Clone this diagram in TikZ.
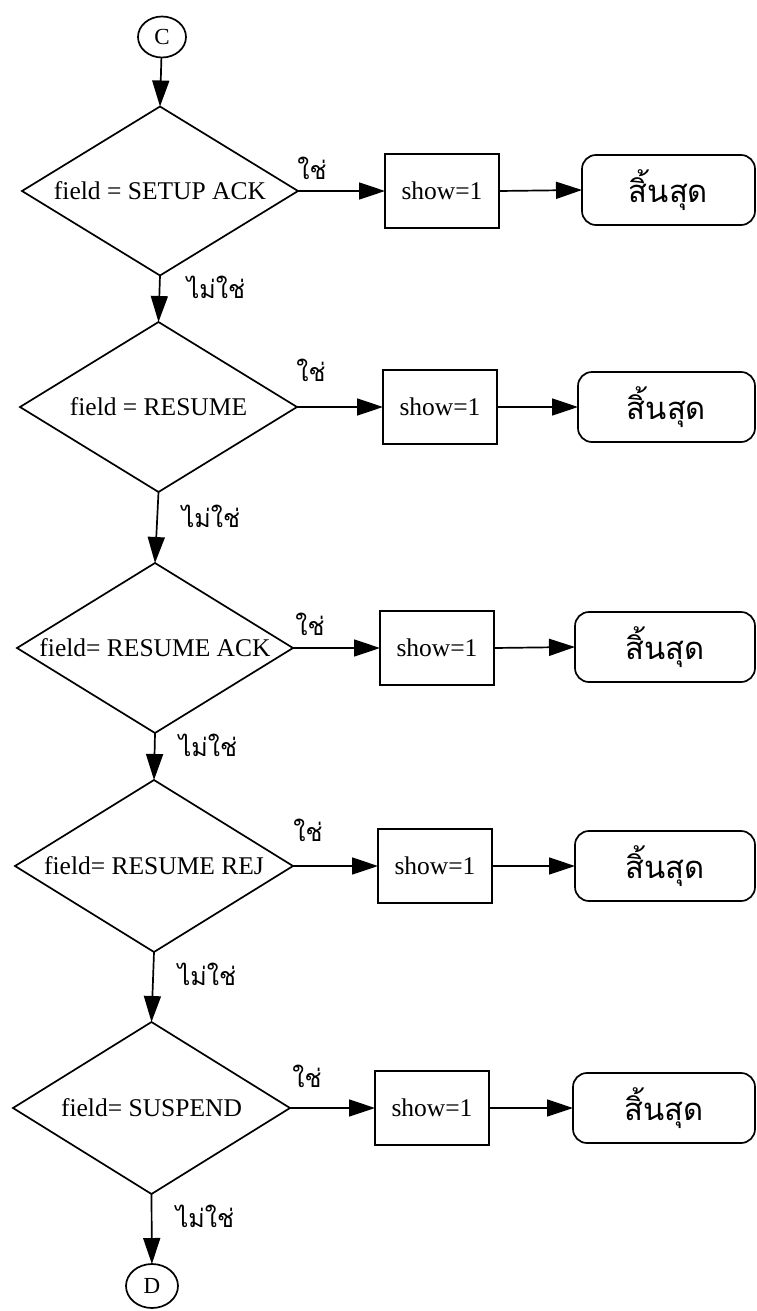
\documentclass[tikz,border=0pt]{standalone}
\usepackage{fontspec}
\setmainfont{Liberation Serif}
\newfontfamily\thaifont[Script=Thai]{Loma}
\usetikzlibrary{shapes.geometric,arrows.meta}
\begin{document}
\begin{tikzpicture}[x=1pt,y=-1pt,line width=1.7pt,
  dec/.style={diamond,draw,aspect=1.63,inner sep=0pt,outer sep=0pt,font=\fontsize{25.5}{28}\selectfont},
  proc/.style={rectangle,draw,minimum width=114pt,minimum height=74pt,inner sep=0pt,outer sep=0pt,font=\fontsize{25.5}{28}\selectfont},
  term/.style={rectangle,draw,rounded corners=14pt,minimum height=70pt,inner sep=0pt,outer sep=0pt,font=\thaifont\fontsize{31}{34}\selectfont},
  conn/.style={ellipse,draw,inner sep=0pt,outer sep=0pt,font=\fontsize{23}{25}\selectfont},
  flow/.style={-{Triangle[length=26pt,width=17pt]}},
  lab/.style={inner sep=0pt,font=\thaifont\fontsize{25}{28}\selectfont}
]
\useasboundingbox (0,0) rectangle (757,1311);

\node[conn,minimum width=48pt,minimum height=41pt] (C) at (162,37) {C};

\node[dec,minimum width=276pt,minimum height=169pt] (d1) at (160,191) {field = SETUP ACK};
\node[dec,minimum width=277pt,minimum height=170pt] (d2) at (158.5,407) {field = RESUME};
\node[dec,minimum width=276pt,minimum height=170pt] (d3) at (155,648) {field= RESUME ACK};
\node[dec,minimum width=278pt,minimum height=172pt] (d4) at (154,866) {field= RESUME REJ};
\node[dec,minimum width=277pt,minimum height=172pt] (d5) at (151.5,1108) {field= SUSPEND};

\node[conn,minimum width=52pt,minimum height=44pt] (D) at (152,1286) {D};

\node[proc] (p1) at (442,191) {show=1};
\node[proc] (p2) at (440,407) {show=1};
\node[proc] (p3) at (437,648) {show=1};
\node[proc] (p4) at (435,866) {show=1};
\node[proc] (p5) at (432,1108) {show=1};

\node[term,minimum width=173pt] (t1) at (668.5,190) {สิ้นสุด};
\node[term,minimum width=177pt] (t2) at (666.5,407) {สิ้นสุด};
\node[term,minimum width=180pt] (t3) at (665,647) {สิ้นสุด};
\node[term,minimum width=180pt] (t4) at (665,866) {สิ้นสุด};
\node[term,minimum width=182pt] (t5) at (664,1108) {สิ้นสุด};

\draw[flow] (C) -- (d1.north);
\draw[flow] (d1.south) -- (d2.north);
\draw[flow] (d2.south) -- (d3.north);
\draw[flow] (d3.south) -- (d4.north);
\draw[flow] (d4.south) -- (d5.north);
\draw[flow] (d5.south) -- (D);

\foreach \i in {1,...,5}{
  \draw[flow] (d\i.east) -- (p\i.west);
  \draw[flow] (p\i.east) -- (t\i.west);
}

\node[lab] (y1) at (312,168) {ใช่};
\node[lab] (y2) at (311,370) {ใช่};
\node[lab] (y3) at (310,624) {ใช่};
\node[lab] (y4) at (308,830) {ใช่};
\node[lab] (y5) at (307,1076) {ใช่};

\node[lab] (n1) at (216,287) {ไม่ใช่};
\node[lab] (n2) at (211,516) {ไม่ใช่};
\node[lab] (n3) at (208,745) {ไม่ใช่};
\node[lab] (n4) at (207,974) {ไม่ใช่};
\node[lab] (n5) at (205,1216) {ไม่ใช่};
\end{tikzpicture}
\end{document}
